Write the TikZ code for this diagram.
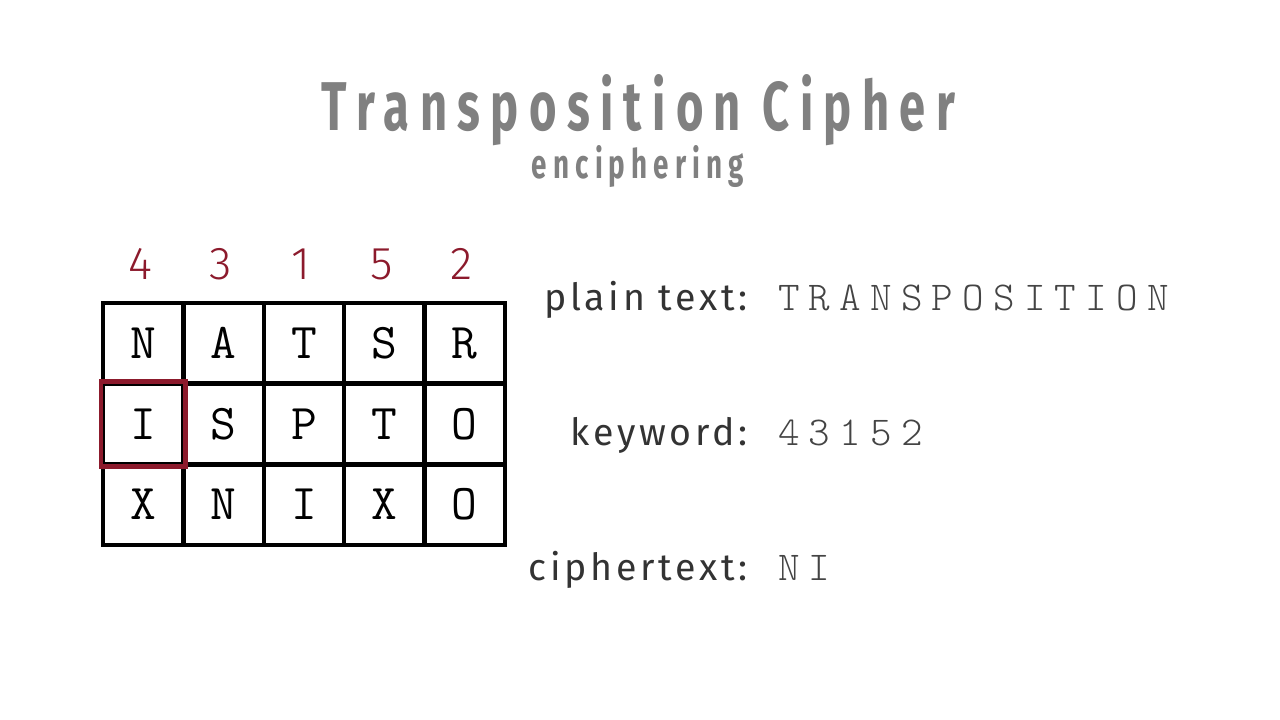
\documentclass[tikz,border=0pt]{standalone}
\usepackage{fontspec}
\usetikzlibrary{calc}
\setmainfont{Fira Sans}
\newfontfamily\titlef[LetterSpace=22]{Fira Sans}
\newfontfamily\labelf[LetterSpace=10]{Fira Sans}
\newfontfamily\monof{Latin Modern Mono}
\newfontfamily\monosp[LetterSpace=22.5]{Latin Modern Mono Light}
\newfontfamily\numf{Fira Sans Light}
\definecolor{titlegrey}{HTML}{808080}
\definecolor{labelgrey}{HTML}{333333}
\definecolor{monogrey}{HTML}{444444}
\definecolor{keyred}{HTML}{8C1A2C}
\begin{document}
\begin{tikzpicture}[x=1pt,y=-1pt,
  cell/.style={draw=black,line width=4.5pt,minimum width=80.4pt,minimum height=80.67pt,inner sep=0pt,
    font=\monof\fontsize{50}{50}\selectfont},
  colnum/.style={anchor=base,text=keyred,inner sep=0pt,font=\numf\fontsize{46}{46}\selectfont},
  lbl/.style={anchor=base east,inner sep=0pt,text=labelgrey,font=\labelf\fontsize{37.5}{37.5}\selectfont},
  val/.style={anchor=base west,inner sep=0pt,text=monogrey,font=\monosp\fontsize{41}{41}\selectfont},
  hilite/.style={draw=keyred,line width=4.5pt}]
\useasboundingbox (0,0) rectangle (1280,720);
\fill[white] (0,0) rectangle (1280,720);
% title
\node[anchor=base,inner sep=0pt,text=titlegrey] (title) at (638.5,130)
  {\resizebox{633pt}{56pt}{\titlef\bfseries Transposition Cipher}};
\node[anchor=base,inner sep=0pt,text=titlegrey] (sub) at (638,178)
  {\resizebox{212pt}{33pt}{\titlef\bfseries enciphering}};
% grid
\foreach \r/\row in {1/{N,A,T,S,R},2/{I,S,P,T,O},3/{X,N,I,X,O}}{
  \foreach \ch [count=\c] in \row {
    \node[cell] (c\r\c) at ({103+80.4*(\c-0.5)},{303+80.67*(\r-0.5)}) {\ch};
  }
}
\draw[hilite] (c21.south west) rectangle (c21.north east);
% column numbers
\foreach \n [count=\c] in {4,3,1,5,2}{
  \node[colnum] (k\c) at ($(c1\c.north)+(-3,-21)$) {\n};
}
% labels
\node[lbl] (lp) at (748,310) {plain text:};
\node[lbl] (lk) at (748,445) {keyword:};
\node[lbl] (lc) at (748,580) {ciphertext:};
\node[val] (vp) at (778,310) {TRANSPOSITION};
\node[val] (vk) at (778,445) {43152};
\node[val] (vc) at (778,580) {NI};
\end{tikzpicture}
\end{document}
